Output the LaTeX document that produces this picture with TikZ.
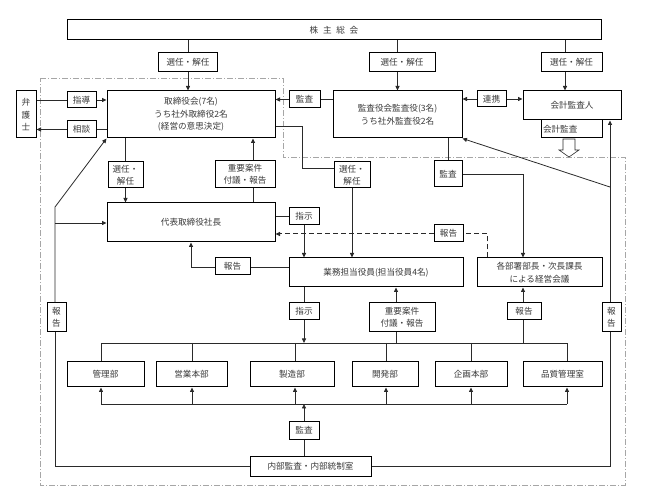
\documentclass[tikz,border=0pt]{standalone}
\usepackage{fontspec}
\setmainfont{Noto Sans CJK JP}
\usetikzlibrary{arrows.meta,calc}
\definecolor{txt}{HTML}{3A3A3A}
\definecolor{ln}{HTML}{2A2A2A}
\begin{document}
\begin{tikzpicture}[x=1pt,y=-1pt,
  box/.style={draw=black, line width=1pt, fill=white, inner sep=0pt, align=center,
    text=txt, font=\fontsize{8.6}{12.5}\selectfont},
  conn/.style={draw=ln, line width=0.8pt},
  arr/.style={conn, -{Triangle[length=4.5pt,width=4pt]}},
  frame/.style={draw=gray!70, line width=0.7pt, dash pattern=on 6pt off 2pt on 1pt off 2pt}]
\useasboundingbox (0,0) rectangle (648,502);

% frame
\draw[frame] (40,78) -- (283,78) -- (283,157) -- (625,157) -- (625,485) -- (40,485) -- cycle;

% nodes
\node[box, minimum width=534pt, minimum height=20pt] (soukai) at (334,30) {株\hspace{0.55em}主\hspace{0.55em}総\hspace{0.55em}会};
\node[box, minimum width=59pt, minimum height=19pt] (sen1) at (188,62.5) {選任・解任};
\node[box, minimum width=66pt, minimum height=19pt] (sen2) at (402,62.5) {選任・解任};
\node[box, minimum width=61pt, minimum height=19pt] (sen3) at (571.5,62.5) {選任・解任};
\node[box, minimum width=20pt, minimum height=47pt] (bengo) at (26,114.5) {弁\\護\\士};
\node[box, minimum width=29pt, minimum height=16pt] (shido) at (81.5,100) {指導};
\node[box, minimum width=29pt, minimum height=17pt] (soudan) at (81.5,129.5) {相談};
\node[box, minimum width=168pt, minimum height=47pt] (board) at (191,114.5) {取締役会(7名)\\うち社外取締役2名\\(経営の意思決定)};
\node[box, minimum width=31pt, minimum height=17pt] (kansa1) at (304.5,99.5) {監査};
\node[box, minimum width=129pt, minimum height=47pt] (auditb) at (397.5,114.5) {監査役会監査役(3名)\\うち社外監査役2名};
\node[box, minimum width=29pt, minimum height=16pt] (renkei) at (491.5,99) {連携};
\node[box, minimum width=98pt, minimum height=29pt] (kaikei) at (572,105.5) {会計監査人};
\node[box, text width=57pt, inner sep=2pt, align=left, minimum height=18pt] (kaikeikansa) at (571.5,129) {会計監査};
\node[box, minimum width=35pt, minimum height=26pt] (sen4) at (125.5,175) {選任・\\解任};
\node[box, minimum width=60pt, minimum height=27pt] (juyo1) at (245,174.5) {重要案件\\付議・報告};
\node[box, minimum width=36pt, minimum height=26pt] (sen5) at (352,175) {選任・\\解任};
\node[box, minimum width=28pt, minimum height=26pt] (kansa2) at (448,174) {監査};
\node[box, minimum width=168pt, minimum height=39pt] (daihyo) at (191,222.5) {代表取締役社長};
\node[box, minimum width=30pt, minimum height=17pt] (shiji1) at (304,216.5) {指示};
\node[box, minimum width=29pt, minimum height=17pt] (houkoku1) at (448.5,233.5) {報告};
\node[box, minimum width=19pt, minimum height=29pt] (houkokuL) at (56.5,317.5) {報\\告};
\node[box, minimum width=35pt, minimum height=17pt] (houkoku2) at (232.5,266.5) {報告};
\node[box, minimum width=174pt, minimum height=29pt] (gyomu) at (376,272.5) {業務担当役員(担当役員4名)};
\node[box, minimum width=125pt, minimum height=29pt] (kakubu) at (539.5,272.5) {各部署部長・次長課長\\による経営会議};
\node[box, minimum width=30pt, minimum height=17pt] (shiji2) at (304,311.5) {指示};
\node[box, minimum width=66pt, minimum height=29pt] (juyo2) at (402,317.5) {重要案件\\付議・報告};
\node[box, minimum width=34pt, minimum height=17pt] (houkoku3) at (524,311.5) {報告};
\node[box, minimum width=19pt, minimum height=29pt] (houkokuR) at (611.5,317.5) {報\\告};
\node[box, minimum width=77pt, minimum height=25pt] (kanri) at (105.5,374.5) {管理部};
\node[box, minimum width=71pt, minimum height=25pt] (eigyo) at (191.5,374.5) {営業本部};
\node[box, minimum width=84pt, minimum height=25pt] (seizo) at (292,374.5) {製造部};
\node[box, minimum width=66pt, minimum height=25pt] (kaihatsu) at (385,374.5) {開発部};
\node[box, minimum width=72pt, minimum height=25pt] (kikaku) at (471,374.5) {企画本部};
\node[box, minimum width=79pt, minimum height=25pt] (hinshitsu) at (562.5,374.5) {品質管理室};
\node[box, minimum width=30pt, minimum height=17pt] (kansa3) at (304,430.5) {監査};
\node[box, minimum width=121pt, minimum height=20pt] (naibu) at (310.5,466) {内部監査・内部統制室};

% helper coordinates
\coordinate (k3) at (565,0);
\coordinate (xj1) at (253,0);
\coordinate (xb5) at (302,126);
\coordinate (yb5) at (302,168);
\coordinate (xk2) at (523,174);
\coordinate (d1) at (610,187);
\coordinate (dz) at (487,234);
\coordinate (h2) at (191,267);
\coordinate (bus1) at (0,343);
\coordinate (bus2) at (0,404);
\coordinate (xj2) at (396,343);
\coordinate (xh3) at (523,343);
\coordinate (L1) at (55,207);
\coordinate (L2) at (55,223);
\coordinate (dx1) at (101,0);
\coordinate (dx2) at (192,0);
\coordinate (dx3) at (295,0);
\coordinate (dx4) at (386,0);
\coordinate (dx5) at (471,0);
\coordinate (dx6) at (567,0);

% shareholders
\draw[conn] (sen1.north |- soukai.south) -- (sen1.north);
\draw[arr] (sen1.south) -- (sen1.south |- board.north);
\draw[conn] (auditb.north |- soukai.south) -- (auditb.north |- sen2.north);
\draw[arr] (auditb.north |- sen2.south) -- (auditb.north);
\draw[conn] (soukai.south -| k3) -- (sen3.north -| k3);
\draw[arr] (sen3.south -| k3) -- (kaikei.north -| k3);

% lawyer
\draw[conn] (bengo.east |- shido.west) -- (shido.west);
\draw[arr] (shido.east) -- (board.west |- shido.east);
\draw[conn] (board.west |- soudan.east) -- (soudan.east);
\draw[arr] (soudan.west) -- (bengo.east |- soudan.west);

% auditors
\draw[conn] (auditb.west |- kansa1.east) -- (kansa1.east);
\draw[arr] (kansa1.west) -- (board.east |- kansa1.west);
\draw[arr] (renkei.west) -- (auditb.east |- renkei.west);
\draw[arr] (renkei.east) -- (kaikei.west |- renkei.east);

% board <-> president
\draw[conn] (sen4.north |- board.south) -- (sen4.north);
\draw[arr] (sen4.south) -- (sen4.south |- daihyo.north);
\draw[conn] (daihyo.north -| xj1) -- (juyo1.south -| xj1);
\draw[arr] (juyo1.north -| xj1) -- (board.south -| xj1);

% board -> officers
\draw[conn] (board.east |- xb5) -- (xb5) -- (yb5) -- (sen5.west |- yb5);
\draw[arr] (sen5.south) -- (sen5.south |- gyomu.north);

% audit board -> meeting
\draw[conn] (kansa2.north |- auditb.south) -- (kansa2.north);
\draw[arr] (kansa2.east |- xk2) -- (xk2) -- (xk2 |- kakubu.north);

% accounting auditor
\draw[arr] (d1) -- (auditb.south east);
\draw[arr] (houkokuR.north -| d1) -- (kaikei.south -| d1);
\draw[draw=ln, line width=0.6pt, fill=white] (563,139) -- (575,139) -- (575,150) -- (579,150) -- (569,157) -- (559,150) -- (563,150) -- cycle;

% president -> officers
\draw[conn] (daihyo.east |- shiji1.west) -- (shiji1.west);
\draw[arr] (shiji1.south) -- (shiji1.south |- gyomu.north);
\draw[conn, dash pattern=on 5pt off 3pt, line width=1pt] (kakubu.north -| dz) -- (dz) -- (houkoku1.east |- dz);
\draw[arr, dash pattern=on 5pt off 3pt, line width=1pt] (houkoku1.west |- dz) -- (daihyo.east |- dz);
\draw[conn] (gyomu.west |- h2) -- (houkoku2.east |- h2);
\draw[arr] (houkoku2.west |- h2) -- (h2) -- (daihyo.south -| h2);

% officers -> departments
\draw[conn] (gyomu.south -| shiji2) -- (shiji2.north);
\draw[arr] (shiji2.south) -- (shiji2.south |- bus1);
\draw[conn] (xj2) -- (juyo2.south -| xj2);
\draw[arr] (juyo2.north -| xj2) -- (gyomu.south -| xj2);
\draw[conn] (xh3) -- (houkoku3.south -| xh3);
\draw[arr] (houkoku3.north -| xh3) -- (kakubu.south -| xh3);

% top bus
\draw[conn] (kanri.north -| dx1) -- (dx1 |- bus1) -- (dx6 |- bus1) -- (hinshitsu.north -| dx6);
\draw[conn] (dx2 |- bus1) -- (eigyo.north -| dx2);
\draw[conn] (dx3 |- bus1) -- (seizo.north -| dx3);
\draw[conn] (dx4 |- bus1) -- (kaihatsu.north -| dx4);
\draw[conn] (dx5 |- bus1) -- (kikaku.north -| dx5);

% bottom bus
\draw[conn] (dx1 |- bus2) -- (dx6 |- bus2);
\draw[arr] (dx1 |- bus2) -- (kanri.south -| dx1);
\draw[arr] (dx2 |- bus2) -- (eigyo.south -| dx2);
\draw[arr] (dx3 |- bus2) -- (seizo.south -| dx3);
\draw[arr] (dx4 |- bus2) -- (kaihatsu.south -| dx4);
\draw[arr] (dx5 |- bus2) -- (kikaku.south -| dx5);
\draw[arr] (dx6 |- bus2) -- (hinshitsu.south -| dx6);

% internal audit
\draw[conn] (naibu.north -| kansa3) -- (kansa3.south);
\draw[arr] (kansa3.north) -- (kansa3.north |- bus2);
\draw[conn] (naibu.west) -- (naibu.west -| L1) -- (houkokuL.south -| L1);
\draw[arr] (houkokuL.north -| L1) -- (L1) -- (board.south west);
\draw[arr] (L2) -- (daihyo.west |- L2);
\draw[conn] (naibu.east) -- (naibu.east -| d1) -- (houkokuR.south -| d1);
\end{tikzpicture}
\end{document}
